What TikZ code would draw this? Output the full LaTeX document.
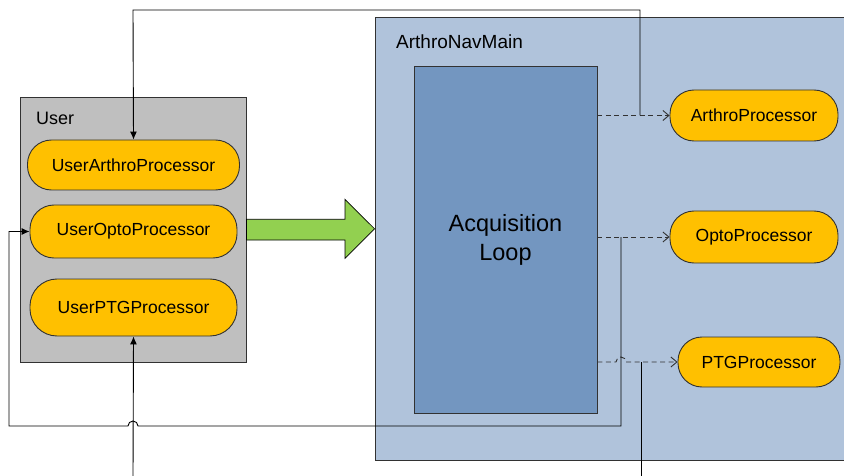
\documentclass[tikz,border=0pt]{standalone}
\usepackage{fontspec}
\setmainfont{Liberation Sans}
\usetikzlibrary{arrows.meta}
\definecolor{pillfill}{RGB}{255,192,0}
\definecolor{userfill}{RGB}{191,191,191}
\definecolor{mainfill}{RGB}{176,195,219}
\definecolor{acqfill}{RGB}{115,150,192}
\definecolor{greenfill}{RGB}{146,208,80}
\definecolor{edge}{RGB}{50,50,50}
\tikzset{
  pill/.style={draw=edge, line width=0.9pt, fill=pillfill, rounded corners=24pt,
    font=\fontsize{17.5}{20}\selectfont, inner sep=0pt},
  panel/.style={draw=edge, line width=0.9pt, inner sep=0pt},
  dashconn/.style={draw=edge, line width=0.9pt, dash pattern=on 5pt off 3.5pt, -{Straight Barb[length=6pt,width=10pt]}},
  feed/.style={draw=black, line width=0.9pt},
  feedarrow/.style={feed, -{Latex[length=8pt,width=7pt]}},
  lbl/.style={anchor=west, inner sep=0pt, font=\fontsize{18}{21}\selectfont}
}
\begin{document}
\begin{tikzpicture}[x=1pt,y=-1pt]
\useasboundingbox (0,0) rectangle (844,476);
\fill[white] (0,0) rectangle (844,476);
% panels
\node[panel, fill=userfill, minimum width=226pt, minimum height=265pt] (user) at (133,229.5) {};
\node[lbl] (userlbl) at (36,118) {User};
\node[panel, fill=mainfill, minimum width=485pt, minimum height=443pt] (main) at (617.5,238.5) {};
\node[lbl, font=\fontsize{19}{22}\selectfont] (mainlbl) at (396,42) {ArthroNavMain};
\node[panel, fill=acqfill, minimum width=183pt, minimum height=347pt, align=center,
      font=\fontsize{23.5}{29}\selectfont] (acq) at (505.5,239.5) {Acquisition\\Loop};
% pills
\node[pill, minimum width=212pt, minimum height=50pt] (uap) at (133.5,165) {UserArthroProcessor};
\node[pill, minimum width=207pt, minimum height=53pt] (uop) at (133.5,231.5) {UserOptoProcessor};
\node[pill, minimum width=207pt, minimum height=57pt, rounded corners=27pt] (upp) at (133.5,307.5) {UserPTGProcessor};
\node[pill, minimum width=168pt, minimum height=51pt] (ap) at (754,115.5) {ArthroProcessor};
\node[pill, minimum width=168pt, minimum height=52pt] (op) at (754,237) {OptoProcessor};
\node[pill, minimum width=162pt, minimum height=50pt] (pp) at (759,362) {PTGProcessor};
% green block arrow
\draw[fill=greenfill, draw=black, line width=0.7pt]
  (user.east |- 0,219.3) -- (345,219.3) -- (345,199.3) -- (main.west |- 0,228.8)
  -- (345,258.3) -- (345,240) -- (user.east |- 0,240) -- cycle;
% dashed connectors
\draw[dashconn] (acq.east |- ap) -- (ap.west);
\draw[dashconn] (acq.east |- op) -- (op.west);
\draw[dashconn] (acq.east |- pp) -- (616,362) arc[start angle=180, end angle=0, radius=5pt] -- (pp.west);
% feedback lines
\coordinate (j1) at (640,115.5);
\coordinate (t1) at (133,10);
\draw[feedarrow] (j1) |- (t1) -- (uap.north);
\coordinate (j2) at (621,237);
\coordinate (b2) at (621,426);
\coordinate (l2) at (9,426);
\coordinate (l3) at (9,231.5);
\draw[feedarrow] (j2) -- (b2) -- (138,426) arc[start angle=0, end angle=180, radius=5pt] -- (l2) -- (l3) -- (uop.west);
\coordinate (j3) at (641,362);
\coordinate (e3) at (641,476);
\draw[feed] (j3) -- (e3);
\coordinate (e4) at (133,476);
\draw[feedarrow] (e4) -- (upp.south);
\end{tikzpicture}
\end{document}
